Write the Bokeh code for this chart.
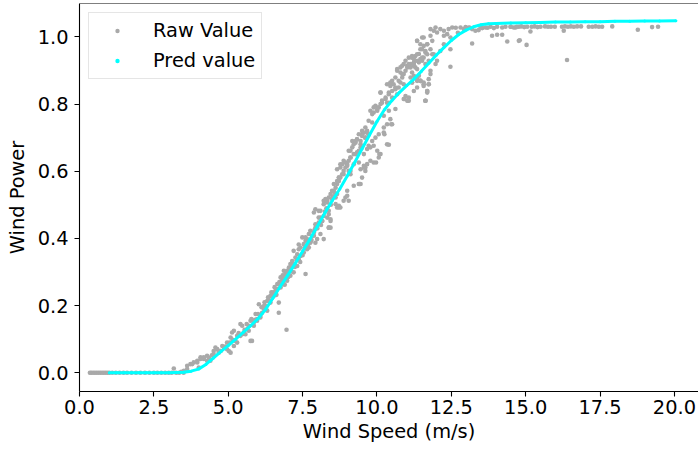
from bokeh.plotting import figure
from bokeh.models import Range1d, Span, Legend, LegendItem, FixedTicker, NumeralTickFormatter
from bokeh.embed import file_html
from bokeh.resources import INLINE

# ---------------- data ----------------
x_ticks = [0.0, 2.5, 5.0, 7.5, 10.0, 12.5, 15.0, 17.5, 20.0]
y_ticks = [0.0, 0.2, 0.4, 0.6, 0.8, 1.0]

raw_flat = [(0.35, 0.0), (0.40, 0.0), (0.46, 0.0), (0.52, 0.0), (0.58, 0.0), (0.64, 0.0), (0.70, 0.0),
            (0.76, 0.0), (0.82, 0.0), (0.88, 0.0), (0.94, 0.0), (1.00, 0.0), (1.10, 0.0), (1.22, 0.0),
            (1.35, 0.0), (1.48, 0.0), (1.60, 0.0), (1.75, 0.0), (1.90, 0.0), (2.05, 0.0), (2.20, 0.0),
            (2.35, 0.0), (2.50, 0.0), (2.62, 0.0), (2.75, 0.0), (2.88, 0.0), (3.00, 0.0), (3.10, 0.0),
            (3.17, 0.013), (3.25, 0.0), (3.35, 0.0), (3.42, 0.003), (3.50, 0.0)]

raw_ramp = [(3.51, 0.006), (3.62, 0.021), (3.73, 0.026), (3.84, 0.031), (3.96, 0.036), (4.01, 0.016),
            (4.07, 0.046), (4.18, 0.041), (4.29, 0.051), (4.40, 0.036), (4.51, 0.065), (4.57, 0.075),
            (4.63, 0.070), (4.74, 0.065), (4.80, 0.080), (4.85, 0.075), (4.96, 0.090), (5.02, 0.065),
            (5.08, 0.105), (5.13, 0.120), (5.19, 0.125), (5.24, 0.095), (5.30, 0.110), (5.41, 0.145),
            (5.47, 0.115), (5.52, 0.120), (5.64, 0.130), (5.69, 0.140), (5.75, 0.155), (5.80, 0.095),
            (5.86, 0.150), (5.92, 0.175), (5.97, 0.160), (6.03, 0.204), (6.08, 0.165), (6.14, 0.179),
            (6.20, 0.190), (6.25, 0.199), (6.31, 0.185), (6.36, 0.219), (6.42, 0.209), (6.48, 0.239),
            (6.53, 0.229), (6.59, 0.244), (6.65, 0.264), (6.70, 0.179), (6.70, 0.209), (6.76, 0.254),
            (6.81, 0.274), (6.87, 0.284), (6.92, 0.294), (6.96, 0.128), (6.98, 0.304), (7.04, 0.313),
            (7.09, 0.324),
            (3.62, 0.011), (3.79, 0.026), (3.96, 0.031), (4.07, 0.041), (4.18, 0.046), (4.29, 0.036),
            (4.51, 0.056), (4.63, 0.070), (4.74, 0.065), (4.96, 0.070), (5.08, 0.060), (5.19, 0.080),
            (5.30, 0.090), (5.41, 0.110), (5.47, 0.140), (5.58, 0.115), (5.69, 0.125), (5.75, 0.095),
            (5.86, 0.140), (5.97, 0.155), (6.08, 0.170), (6.20, 0.199), (6.31, 0.214), (6.42, 0.229),
            (6.53, 0.239), (6.64, 0.249), (6.76, 0.259), (6.87, 0.264), (6.98, 0.274), (7.09, 0.289),
            (7.20, 0.299), (7.32, 0.318), (7.37, 0.338), (7.43, 0.348), (7.54, 0.358), (7.60, 0.294),
            (7.65, 0.368), (7.76, 0.388), (7.88, 0.408), (8.10, 0.413), (8.21, 0.398), (8.44, 0.432),
            (4.35, 0.045), (4.45, 0.052), (4.68, 0.060), (4.90, 0.078), (5.05, 0.090), (5.15, 0.098),
            (5.35, 0.118), (5.55, 0.128), (5.62, 0.145), (5.78, 0.160), (5.90, 0.158), (6.00, 0.175),
            (6.12, 0.195), (6.22, 0.210), (6.34, 0.225), (6.45, 0.240), (6.56, 0.255), (6.62, 0.232),
            (6.72, 0.270), (6.83, 0.290), (6.90, 0.262), (7.02, 0.285), (7.12, 0.302), (7.24, 0.315),
            (7.30, 0.335), (7.42, 0.330), (7.50, 0.350), (7.58, 0.372), (7.68, 0.382), (7.80, 0.395),
            (7.90, 0.425), (8.00, 0.430), (8.12, 0.440), (8.25, 0.480), (8.30, 0.490), (8.45, 0.500),
            (8.52, 0.525), (8.58, 0.535)]

raw_mid = [(6.76, 0.284), (6.87, 0.304), (6.98, 0.294), (7.09, 0.313), (7.15, 0.333), (7.20, 0.324),
           (7.26, 0.343), (7.32, 0.353), (7.20, 0.363), (7.37, 0.368), (7.43, 0.373), (7.54, 0.383),
           (7.60, 0.393), (7.49, 0.403), (7.65, 0.398), (7.76, 0.388), (7.71, 0.413), (7.82, 0.408),
           (7.88, 0.418), (7.99, 0.398), (7.93, 0.432), (8.04, 0.447), (8.10, 0.462), (8.16, 0.452),
           (8.21, 0.467), (8.33, 0.462), (8.38, 0.472), (8.44, 0.452), (7.88, 0.477), (7.93, 0.487),
           (8.04, 0.482), (8.21, 0.502), (8.33, 0.512), (8.38, 0.522), (8.44, 0.532), (8.49, 0.517),
           (8.55, 0.542), (8.61, 0.551), (8.66, 0.562), (8.72, 0.571), (8.77, 0.581), (8.83, 0.591),
           (8.88, 0.601), (8.94, 0.611), (9.00, 0.621), (9.05, 0.631), (9.11, 0.641), (9.22, 0.651),
           (9.33, 0.656), (9.45, 0.562), (9.00, 0.542), (8.94, 0.522), (8.88, 0.512), (8.77, 0.492),
           (8.61, 0.502), (9.11, 0.601), (9.22, 0.621), (9.39, 0.626), (9.56, 0.616), (9.45, 0.606),
           (8.66, 0.532), (8.72, 0.497), (8.38, 0.432)]

raw_dense_a = [(7.37, 0.382), (7.60, 0.403), (7.76, 0.423), (7.93, 0.442), (8.04, 0.462), (8.10, 0.482),
               (8.21, 0.512), (8.27, 0.517), (8.33, 0.507), (8.49, 0.542), (8.55, 0.562), (8.66, 0.571),
               (8.77, 0.611), (8.83, 0.621), (8.94, 0.626), (9.11, 0.661), (9.22, 0.680), (9.33, 0.695),
               (9.50, 0.710), (9.67, 0.715), (9.17, 0.690), (9.45, 0.671), (9.28, 0.651), (9.05, 0.601),
               (8.88, 0.591), (8.72, 0.581), (8.61, 0.522), (8.38, 0.482), (8.16, 0.452), (8.38, 0.432),
               (8.44, 0.457), (8.66, 0.492), (9.00, 0.527), (9.22, 0.557), (9.39, 0.562), (9.61, 0.601),
               (9.67, 0.621), (9.78, 0.631), (9.89, 0.626), (9.50, 0.581), (9.05, 0.512), (8.72, 0.492),
               (7.93, 0.387), (7.71, 0.373)]

raw_dense_b = [(9.28, 0.690), (9.39, 0.710), (9.50, 0.720), (9.61, 0.730), (9.72, 0.750), (9.84, 0.770),
               (9.89, 0.790), (9.95, 0.795), (10.06, 0.790), (10.17, 0.804), (10.29, 0.815), (10.40, 0.834),
               (10.34, 0.859), (10.45, 0.854), (10.51, 0.869), (10.62, 0.879), (10.68, 0.899), (10.79, 0.909),
               (10.90, 0.919), (10.96, 0.929), (11.07, 0.938), (11.18, 0.943), (11.24, 0.924), (11.35, 0.988),
               (11.52, 0.998), (11.57, 0.973), (11.69, 0.978), (11.80, 0.963), (11.86, 0.948), (11.63, 0.953),
               (11.46, 0.963), (11.41, 0.924), (10.85, 0.889), (10.73, 0.869), (10.62, 0.849), (10.12, 0.834),
               (10.01, 0.780), (9.78, 0.780), (9.61, 0.700), (9.45, 0.680), (10.40, 0.804), (10.51, 0.819),
               (11.02, 0.914), (11.13, 0.919), (11.29, 0.909), (11.52, 0.929),
               (9.72, 0.676), (9.95, 0.700), (10.06, 0.710), (10.34, 0.740), (10.40, 0.780), (10.62, 0.785),
               (10.90, 0.815), (10.96, 0.824), (11.07, 0.810), (11.24, 0.839), (11.35, 0.849), (11.46, 0.869),
               (11.57, 0.859), (11.63, 0.810), (11.69, 0.834), (11.80, 0.889), (11.97, 0.919), (9.84, 0.690),
               (10.23, 0.730)]

raw_upper = [(8.66, 0.606), (8.77, 0.621), (8.88, 0.631), (9.00, 0.616), (9.11, 0.641), (9.05, 0.661),
             (9.17, 0.671), (9.28, 0.685), (9.33, 0.695), (9.45, 0.690), (9.50, 0.705), (9.56, 0.715),
             (9.61, 0.700), (9.67, 0.720), (9.72, 0.710), (9.39, 0.661), (9.56, 0.651), (9.67, 0.666),
             (9.78, 0.671), (9.89, 0.676), (10.01, 0.661), (10.06, 0.641), (10.12, 0.651), (9.61, 0.611),
             (10.34, 0.680), (10.23, 0.715), (9.84, 0.745), (9.89, 0.775), (10.01, 0.785), (10.12, 0.800),
             (10.17, 0.810), (10.29, 0.819), (10.34, 0.804), (10.23, 0.765), (10.45, 0.755), (10.51, 0.740),
             (10.40, 0.829), (10.51, 0.839), (10.62, 0.844), (10.68, 0.829), (10.73, 0.849), (10.56, 0.859),
             (10.45, 0.864), (10.12, 0.834), (10.79, 0.864), (10.85, 0.879), (10.90, 0.889), (10.96, 0.899),
             (11.02, 0.909), (11.07, 0.919), (11.18, 0.938), (11.29, 0.943), (11.41, 0.949),
             (11.52, 0.938), (11.63, 0.919), (11.02, 0.810), (11.07, 0.819), (10.90, 0.859), (11.18, 0.864),
             (11.35, 0.869), (11.41, 0.884), (11.46, 0.869), (11.63, 0.810), (11.69, 0.839), (11.74, 0.859),
             (10.85, 0.914), (11.24, 0.914), (10.68, 0.904), (10.79, 0.894), (10.92, 0.815), (11.04, 0.810),
             (10.48, 0.740), (10.08, 0.651), (9.97, 0.626), (10.40, 0.679), (9.41, 0.562), (10.25, 0.710),
             (8.72, 0.581), (9.11, 0.591), (9.56, 0.611)]

raw_knee = [(11.63, 0.810), (11.69, 0.839), (11.74, 0.859), (11.57, 0.854), (11.46, 0.869), (11.35, 0.874),
            (11.24, 0.884), (11.18, 0.894), (11.13, 0.909), (11.24, 0.919), (11.35, 0.929), (11.46, 0.934),
            (11.57, 0.938), (11.69, 0.948), (11.74, 0.929), (11.63, 0.958), (11.52, 0.963), (11.46, 0.978),
            (11.35, 0.988), (11.57, 0.998), (11.80, 1.003), (11.91, 1.018), (12.02, 1.013), (12.13, 1.023),
            (12.25, 1.018), (12.36, 1.008), (12.47, 0.998), (12.41, 1.023), (12.53, 1.028), (12.81, 1.028),
            (12.92, 1.023), (13.09, 1.028), (13.20, 1.023), (13.31, 1.018), (13.42, 1.020), (13.54, 1.026),
            (13.65, 1.028), (13.82, 1.030), (13.93, 1.026), (14.04, 1.030), (14.21, 1.028), (14.32, 1.030),
            (14.49, 1.030), (14.66, 1.028), (14.77, 1.030), (13.87, 1.003), (14.04, 1.006), (14.21, 1.006),
            (14.38, 0.986), (14.77, 0.988), (13.20, 0.980), (12.47, 0.911), (12.47, 0.963), (12.25, 0.978),
            (12.13, 0.958), (11.91, 0.948), (12.02, 0.929), (11.80, 0.899), (11.69, 0.978), (11.80, 1.023),
            (11.97, 1.028), (12.25, 1.003), (11.86, 0.988), (11.35, 0.948), (11.24, 0.934), (11.13, 0.879),
            (11.18, 0.864), (11.57, 0.864), (11.74, 0.874), (11.35, 0.904), (12.65, 1.027), (12.72, 1.012),
            (12.98, 1.029), (13.12, 1.027), (13.48, 1.029), (13.72, 1.027)]

raw_top = [(14.50, 1.030), (14.60, 1.028), (14.70, 1.030), (14.85, 1.031), (14.95, 1.029), (15.05, 1.030),
           (15.16, 1.016), (15.20, 1.030), (15.30, 1.031), (15.40, 1.029), (15.50, 1.030), (15.65, 1.031),
           (15.75, 1.030), (15.85, 1.030), (15.98, 1.030), (16.22, 1.030), (16.28, 1.018), (16.32, 1.031),
           (16.42, 1.030), (16.52, 1.031), (16.62, 1.030), (16.73, 1.031), (16.86, 1.031), (17.12, 1.030),
           (17.24, 1.030), (17.35, 1.031), (17.46, 1.030), (17.57, 1.030), (17.91, 1.031), (18.77, 1.021),
           (19.25, 1.029), (19.45, 1.030), (14.80, 0.990), (15.03, 0.976), (16.39, 0.931)]

pred_speed = [1.0, 1.25, 1.5, 1.75, 2.0, 2.25, 2.5, 2.75, 3.0, 3.25, 3.5, 3.75, 4.0, 4.25, 4.5, 4.75,
              5.0, 5.25, 5.5, 5.75, 6.0, 6.25, 6.5, 6.75, 7.0, 7.25, 7.5, 7.75, 8.0, 8.25, 8.5, 8.75,
              9.0, 9.25, 9.5, 9.75, 10.0, 10.25, 10.5, 10.75, 11.0, 11.25, 11.5, 11.75, 12.0, 12.25,
              12.5, 12.75, 13.0, 13.25, 13.5, 13.75, 14.0, 14.5, 15.0, 15.5, 16.0, 16.5, 17.0, 17.5,
              18.0, 18.5, 19.0, 19.5, 20.05]
pred_power = [0.0, 0.0, 0.0, 0.0, 0.0, 0.0, 0.0, 0.0, 0.0, 0.001, 0.002, 0.005, 0.011, 0.025, 0.044, 0.063,
              0.081, 0.100, 0.120, 0.140, 0.161, 0.188, 0.222, 0.257, 0.290, 0.325, 0.362, 0.398, 0.436, 0.476,
              0.513, 0.547, 0.586, 0.626, 0.667, 0.708, 0.748, 0.783, 0.810, 0.834, 0.855, 0.875, 0.898, 0.922,
              0.946, 0.968, 0.989, 1.007, 1.020, 1.030, 1.036, 1.039, 1.040, 1.041, 1.042, 1.043, 1.044, 1.044,
              1.045, 1.045, 1.046, 1.046, 1.047, 1.047, 1.048]

raw_all = raw_flat + raw_ramp + raw_mid + raw_dense_a + raw_dense_b + raw_upper + raw_knee + raw_top
raw_speed = [pt[0] for pt in raw_all]
raw_power = [pt[1] for pt in raw_all]

# ---------------- figure ----------------
FONT = "DejaVu Sans"
FS = "19.4px"
Y0, Y1 = -0.0556, 1.0992

p = figure(width=698, height=450, output_backend="svg", toolbar_location=None,
           x_range=Range1d(0, 20.81), y_range=Range1d(Y0, Y1),
           min_border_left=79, min_border_right=0, min_border_top=3, min_border_bottom=59)
p.background_fill_color = "white"
p.border_fill_color = "white"
p.outline_line_color = None
p.xgrid.visible = False
p.ygrid.visible = False

r_raw = p.scatter(raw_speed, raw_power, size=4.6, fill_color="#a9a9a9", line_color=None)
p.line(pred_speed, pred_power, line_color="#00ffff", line_width=3)
r_pred = p.scatter(pred_speed, pred_power, size=3, fill_color="#00ffff", line_color=None)

p.add_layout(Span(location=Y1, dimension="width", line_color="black", line_width=1.1))

for ax in (p.xaxis[0], p.yaxis[0]):
    ax.axis_line_color = "black"
    ax.axis_line_width = 1.1
    ax.major_tick_line_color = "black"
    ax.major_tick_line_width = 1.1
    ax.major_tick_in = 0
    ax.major_tick_out = 5
    ax.minor_tick_line_color = None
    ax.major_label_text_font = FONT
    ax.major_label_text_font_size = FS
    ax.major_label_text_color = "black"
    ax.axis_label_text_font = FONT
    ax.axis_label_text_font_size = FS
    ax.axis_label_text_font_style = "normal"
    ax.axis_label_text_color = "black"
    ax.formatter = NumeralTickFormatter(format="0.0")

p.xaxis[0].ticker = FixedTicker(ticks=x_ticks)
p.yaxis[0].ticker = FixedTicker(ticks=y_ticks)
p.xaxis[0].axis_label = "Wind Speed (m/s)"
p.yaxis[0].axis_label = "Wind Power"
p.xaxis[0].major_label_standoff = 3
p.xaxis[0].axis_label_standoff = 3
p.yaxis[0].major_label_standoff = 6
p.yaxis[0].axis_label_standoff = 6

legend = Legend(items=[LegendItem(label="Raw Value", renderers=[r_raw]),
                       LegendItem(label="Pred value", renderers=[r_pred])],
                location="top_left")
legend.border_line_color = "#cccccc"
legend.border_line_width = 1
legend.background_fill_color = "white"
legend.background_fill_alpha = 0.8
legend.label_text_font = FONT
legend.label_text_font_size = FS
legend.label_text_color = "black"
legend.glyph_width = 44
legend.glyph_height = 11
legend.label_height = 22
legend.label_standoff = 14
legend.padding = 6
legend.spacing = 7
legend.margin = 9
p.add_layout(legend)

open("out.html", "w").write(file_html(p, INLINE))
